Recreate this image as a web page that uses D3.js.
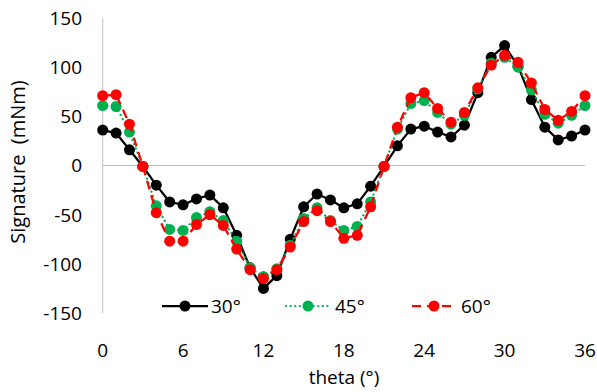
<!DOCTYPE html>
<html><head><meta charset="utf-8">
<script src="https://cdn.jsdelivr.net/npm/d3@7"></script>
<style>body{margin:0;background:#fff}svg{display:block}</style>
</head><body>
<script>
const theta = d3.range(0, 37);
const s30 = [36,33,16,-1,-20,-37,-40,-34,-30,-43,-71,-104,-125,-112,-75,-42,-29,-35,-43,-39,-21,-1,20,37,40,34,29,41,74,110,122,101,67,39,26,30,36];
const s45 = [61,60,34,-1,-41,-65,-66,-53,-47,-56,-77,-104,-113,-105,-81,-54,-43,-56,-66,-62,-37,-1,37,63,66,54,42,51,78,104,110,100,77,52,43,51,61];
const s60 = [71,72,42,-1,-48,-77,-77,-60,-50,-61,-85,-106,-115,-106,-83,-57,-46,-57,-74,-71,-42,-1,39,69,74,58,44,54,79,102,112,105,84,57,46,55,71];
const xTicks = [0,6,12,18,24,30,36];
const yTicks = [-150,-100,-50,0,50,100,150];
const seriesNames = ["30°","45°","60°"];

const W=597,H=392;
const svg=d3.select("body").append("svg").attr("width",W).attr("height",H);
const x=d3.scaleLinear().domain([0,36]).range([102.7,585]);
const y=d3.scaleLinear().domain([-150,150]).range([313,18]);
const font="'Open Sans', sans-serif";
const fs=19;

svg.append("line").attr("x1",x(0)).attr("x2",x(0)).attr("y1",y(150)).attr("y2",y(-150)).attr("stroke","#bfbfbf").attr("stroke-width",1);
svg.append("line").attr("x1",x(0)).attr("x2",x(36)).attr("y1",y(0)).attr("y2",y(0)).attr("stroke","#bfbfbf").attr("stroke-width",1);

svg.append("g").selectAll("text").data(yTicks).join("text")
  .attr("x",82).attr("y",d=>y(d)).attr("dy","0.36em").attr("text-anchor","end")
  .attr("font-family",font).attr("font-size",fs).attr("fill","#000").text(d=>d);
svg.append("g").selectAll("text").data(xTicks).join("text")
  .attr("x",d=>x(d)).attr("y",357).attr("text-anchor","middle")
  .attr("font-family",font).attr("font-size",fs).attr("fill","#000").text(d=>d);
svg.append("text").attr("x",344).attr("y",384).attr("text-anchor","middle")
  .attr("font-family",font).attr("font-size",fs).text("theta (°)");
svg.append("text").attr("transform","translate(25,162) rotate(-90)").attr("text-anchor","middle")
  .attr("font-family",font).attr("font-size",20).attr("xml:space","preserve").text("Signature  (mNm)");

const series=[
  {name:seriesNames[0],vals:s30,color:"#000000",dash:null,cap:"butt"},
  {name:seriesNames[1],vals:s45,color:"#00B050",dash:"0.1,4.5",cap:"round"},
  {name:seriesNames[2],vals:s60,color:"#FF0000",dash:"9,6",cap:"butt"}
];
const line=d3.line().x((d,i)=>x(theta[i])).y(d=>y(d));
series.forEach(s=>{
  svg.append("path").datum(s.vals).attr("d",line).attr("fill","none")
    .attr("stroke",s.color).attr("stroke-width",2.25)
    .attr("stroke-dasharray",s.dash).attr("stroke-linecap",s.cap);
  svg.append("g").selectAll("circle").data(s.vals).join("circle")
    .attr("cx",(d,i)=>x(theta[i])).attr("cy",d=>y(d)).attr("r",5.5).attr("fill",s.color);
});

const lg=[{x0:162,x1:208,tx:211},{x0:286,x1:330,tx:335},{x0:412,x1:456,tx:461}];
series.forEach((s,i)=>{
  const l=lg[i], ly=306;
  svg.append("line").attr("x1",l.x0).attr("x2",l.x1).attr("y1",ly).attr("y2",ly)
    .attr("stroke",s.color).attr("stroke-width",2.25).attr("stroke-dasharray",s.dash).attr("stroke-linecap",s.cap);
  svg.append("circle").attr("cx",(l.x0+l.x1)/2).attr("cy",ly).attr("r",5.5).attr("fill",s.color);
  svg.append("text").attr("x",l.tx).attr("y",ly).attr("dy","0.36em")
    .attr("font-family",font).attr("font-size",fs).text(s.name);
});
</script>
</body></html>
